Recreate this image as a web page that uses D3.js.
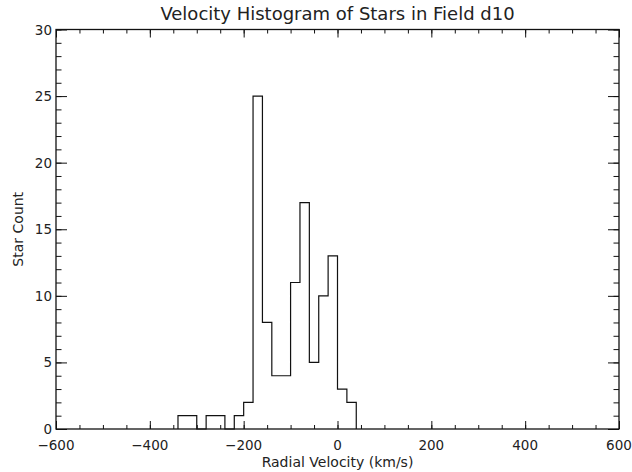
<!DOCTYPE html>
<html>

<head>
    <title>Velocity Histogram</title>
    <script src="https://d3js.org/d3.v7.min.js"></script>
    <style>
        body { margin: 0; background: #fff; }
        text { font-family: "DejaVu Sans", sans-serif; fill: #222; }
    </style>
</head>

<body>
    <svg width="632" height="472" id="mainSvg"></svg>
    <script>
        // bin edges (km/s), each bin is 20 wide
        const binStarts = [-340, -320, -300, -280, -260, -240, -220, -200, -180, -160, -140, -120,
            -100, -80, -60, -40, -20, 0, 20];
        const binCounts = [1, 1, 0, 1, 1, 0, 1, 2, 25, 8, 4, 4, 11, 17, 5, 10, 13, 3, 2];
        const binWidth = 20;

        const xTicks = [-600, -400, -200, 0, 200, 400, 600];
        const yTicks = [0, 5, 10, 15, 20, 25, 30];

        const titleText = 'Velocity Histogram of Stars in Field d10';
        const xAxisLabelText = 'Radial Velocity (km/s)';
        const yAxisLabelText = 'Star Count';

        const mainSvg = d3.select('#mainSvg');
        const margin = { top: 29.5, right: 13, bottom: 43, left: 56 };
        const innerWidth = 632 - margin.left - margin.right;
        const innerHeight = 472 - margin.top - margin.bottom;

        const g = mainSvg.append('g')
            .attr('transform', `translate(${margin.left}, ${margin.top})`);

        const xScale = d3.scaleLinear().domain([-600, 600]).range([0, innerWidth]);
        const yScale = d3.scaleLinear().domain([0, 30]).range([innerHeight, 0]);

        // ticks point inwards, IDL style
        const xMinor = d3.range(-600, 601, 50);
        const yMinor = d3.range(0, 31, 1);
        const xMajLen = 8, xMinLen = 4, yMajLen = 11, yMinLen = 5.5;

        function styleAxis(sel) {
            sel.select('.domain').remove();
            sel.selectAll('text').remove();
            sel.selectAll('line').attr('stroke', '#111').attr('stroke-width', 1);
        }

        // bottom
        g.append('g').attr('transform', `translate(0, ${innerHeight})`)
            .call(d3.axisTop(xScale).tickValues(xMinor).tickSize(xMinLen))
            .call(styleAxis);
        g.append('g').attr('transform', `translate(0, ${innerHeight})`)
            .call(d3.axisTop(xScale).tickValues(xTicks).tickSize(xMajLen))
            .call(styleAxis);
        // top
        g.append('g')
            .call(d3.axisBottom(xScale).tickValues(xMinor).tickSize(xMinLen))
            .call(styleAxis);
        g.append('g')
            .call(d3.axisBottom(xScale).tickValues(xTicks).tickSize(xMajLen))
            .call(styleAxis);
        // left
        g.append('g')
            .call(d3.axisRight(yScale).tickValues(yMinor).tickSize(yMinLen))
            .call(styleAxis);
        g.append('g')
            .call(d3.axisRight(yScale).tickValues(yTicks).tickSize(yMajLen))
            .call(styleAxis);
        // right
        g.append('g').attr('transform', `translate(${innerWidth}, 0)`)
            .call(d3.axisLeft(yScale).tickValues(yMinor).tickSize(yMinLen))
            .call(styleAxis);
        g.append('g').attr('transform', `translate(${innerWidth}, 0)`)
            .call(d3.axisLeft(yScale).tickValues(yTicks).tickSize(yMajLen))
            .call(styleAxis);

        // frame
        g.append('rect')
            .attr('width', innerWidth).attr('height', innerHeight)
            .attr('fill', 'none').attr('stroke', '#111').attr('stroke-width', 1.3);

        // tick labels
        g.selectAll('.xlab').data(xTicks).enter().append('text')
            .attr('x', d => xScale(d))
            .attr('y', innerHeight + 21)
            .attr('text-anchor', 'middle')
            .attr('font-size', 13.5)
            .text(d => d < 0 ? '\u2212' + Math.abs(d) : d);

        g.selectAll('.ylab').data(yTicks).enter().append('text')
            .attr('x', -4)
            .attr('y', d => yScale(d) + 5)
            .attr('text-anchor', 'end')
            .attr('font-size', 13.5)
            .text(d => d);

        // histogram as a step line
        const pts = [];
        binStarts.forEach((s, i) => {
            pts.push([s, binCounts[i]]);
            pts.push([s + binWidth, binCounts[i]]);
        });
        pts.unshift([binStarts[0], 0]);
        pts.push([binStarts[binStarts.length - 1] + binWidth, 0]);

        const line = d3.line().x(d => xScale(d[0])).y(d => yScale(d[1]));
        g.append('path')
            .attr('d', line(pts))
            .attr('fill', 'none')
            .attr('stroke', '#111')
            .attr('stroke-width', 1.2);

        // titles
        mainSvg.append('text')
            .attr('x', margin.left + innerWidth / 2)
            .attr('y', 20)
            .attr('text-anchor', 'middle')
            .attr('font-size', 18)
            .text(titleText);

        mainSvg.append('text')
            .attr('x', margin.left + innerWidth / 2)
            .attr('y', 467)
            .attr('text-anchor', 'middle')
            .attr('font-size', 14)
            .text(xAxisLabelText);

        mainSvg.append('text')
            .attr('transform', `translate(23, ${margin.top + innerHeight / 2}) rotate(-90)`)
            .attr('text-anchor', 'middle')
            .attr('font-size', 14)
            .text(yAxisLabelText);
    </script>
</body>

</html>
